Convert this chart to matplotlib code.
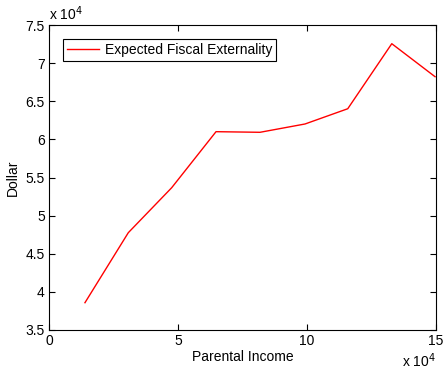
import matplotlib.pyplot as plt
import numpy as np

plt.rcParams['font.family'] = ['Liberation Sans', 'DejaVu Sans']

income = [13950, 30740, 47550, 64730, 81780, 99220, 115770, 132830, 149600]
externality = [38580, 47760, 53660, 61010, 60930, 62020, 64020, 72550, 68220]

xticks = [0, 50000, 100000, 150000]
yticks = np.arange(35000, 75001, 5000)

fig = plt.figure(figsize=(4.45, 3.69), dpi=100)
ax = fig.add_axes([0.110, 0.1057, 0.870, 0.8265])
ax.plot(income, externality, color="red", linewidth=1, label="Expected Fiscal Externality")

ax.set_xlim(0, 150000)
ax.set_ylim(35000, 75000)
ax.set_xticks(xticks)
ax.set_xticklabels([f"{t/1e4:g}" for t in xticks])
ax.set_yticks(yticks)
ax.set_yticklabels([f"{t/1e4:g}" for t in yticks])
ax.tick_params(direction="in", top=True, right=True, labelsize=10, length=4, pad=3)
for s in ax.spines.values():
    s.set_linewidth(0.8)

ax.set_xlabel("Parental Income", fontsize=10, labelpad=1)
ax.set_ylabel("Dollar", fontsize=10, labelpad=4)

ax.text(0, 1.005, r"x 10$^4$", transform=ax.transAxes, fontsize=10, va="bottom", ha="left")
ax.text(1.0, -0.07, r"x 10$^4$", transform=ax.transAxes, fontsize=10, va="top", ha="right")

leg = ax.legend(loc="upper left", fontsize=10, fancybox=False, framealpha=1,
                edgecolor="black", borderaxespad=1.0, handlelength=2.3,
                borderpad=0.3, handletextpad=0.4)
leg.get_frame().set_linewidth(0.8)

fig.savefig("out.png", dpi=100)
